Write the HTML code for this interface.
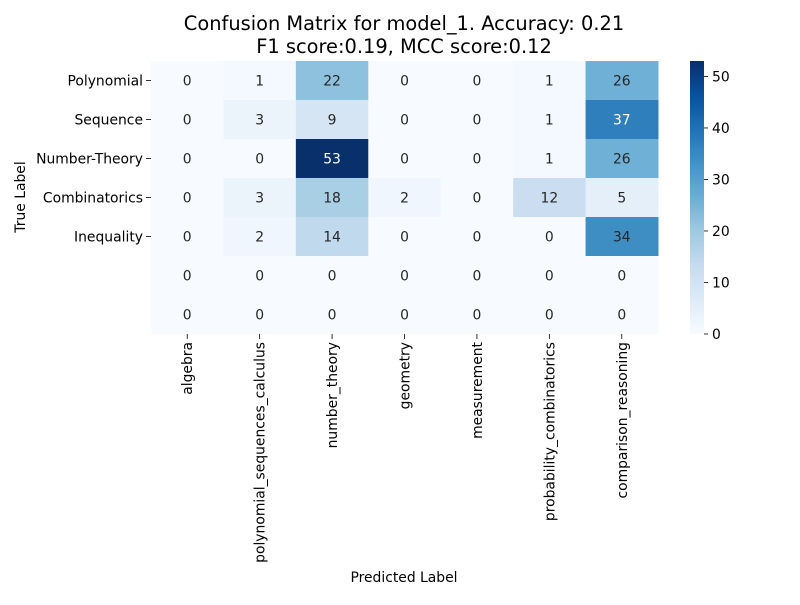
<!DOCTYPE html>
<html><head><meta charset="utf-8">
<style>body{margin:0;background:#fff}svg text{font-family:"DejaVu Sans","Liberation Sans",sans-serif}</style>
</head><body>
<svg id="chart" width="800" height="600" viewBox="0 0 800 600">
<defs>
<linearGradient id="blues" x1="0" y1="1" x2="0" y2="0">
<stop offset="0" stop-color="#f7fbff"/><stop offset="0.125" stop-color="#deebf7"/><stop offset="0.25" stop-color="#c6dbef"/><stop offset="0.375" stop-color="#9ecae1"/><stop offset="0.5" stop-color="#6baed6"/><stop offset="0.625" stop-color="#4292c6"/><stop offset="0.75" stop-color="#2171b5"/><stop offset="0.875" stop-color="#08519c"/><stop offset="1" stop-color="#08306b"/>
</linearGradient>
</defs>
<text x="404" y="30" font-size="19.4" text-anchor="middle">Confusion Matrix for model_1. Accuracy: 0.21</text>
<text x="404" y="53" font-size="19.4" text-anchor="middle">F1 score:0.19, MCC score:0.12</text>
<text x="404" y="582" font-size="13.9" text-anchor="middle">Predicted Label</text>
<text transform="translate(25,197) rotate(-90)" font-size="13.9" text-anchor="middle">True Label</text>
<g id="cells"></g>
<g id="cbar"></g>
</svg>
<script>
const rowLabels = ["Polynomial","Sequence","Number-Theory","Combinatorics","Inequality","",""];
const colLabels = ["algebra","polynomial_sequences_calculus","number_theory","geometry","measurement","probability_combinatorics","comparison_reasoning"];
const matrix = [
 [0,1,22,0,0,1,26],
 [0,3,9,0,0,1,37],
 [0,0,53,0,0,1,26],
 [0,3,18,2,0,12,5],
 [0,2,14,0,0,0,34],
 [0,0,0,0,0,0,0],
 [0,0,0,0,0,0,0]
];
const cbarTicks = [0,10,20,30,40,50];

const NS="http://www.w3.org/2000/svg";
const X0=151, X1=658, Y0=61, Y1=334;
const vmax=Math.max(...matrix.flat()), vmin=0;
const cw=(X1-X0)/colLabels.length, ch=(Y1-Y0)/rowLabels.length;
const colX=i=>X0+i*cw, rowY=j=>Y0+j*ch;
const stops=["#f7fbff","#deebf7","#c6dbef","#9ecae1","#6baed6","#4292c6","#2171b5","#08519c","#08306b"].map(h=>[1,3,5].map(k=>parseInt(h.substr(k,2),16)));
function color(v){let t=(v-vmin)/(vmax-vmin)*8;let i=Math.min(7,Math.floor(t));let f=t-i;
 return stops[i].map((c,k)=>Math.round(c+(stops[i+1][k]-c)*f));}
function mk(tag,attrs,parent){const e=document.createElementNS(NS,tag);for(const k in attrs)e.setAttribute(k,attrs[k]);parent.appendChild(e);return e;}
const g=document.getElementById('cells');
matrix.forEach((row,j)=>row.forEach((v,i)=>{
 const c=color(v);
 const r=mk('rect',{x:colX(i),y:rowY(j),width:cw+0.5,height:ch+0.5,fill:`rgb(${c})`},g);
 
 
 const lum=(0.2126*c[0]+0.7152*c[1]+0.0722*c[2])/255;
 const t=mk('text',{x:colX(i)+cw/2,y:rowY(j)+ch/2+5,'font-size':13.9,'text-anchor':'middle',fill:lum<0.45?'#fff':'#262626'},g);
 t.textContent=v;
 
 
}));
rowLabels.forEach((l,j)=>{
 if(!l) return;
 const y=rowY(j)+ch/2;
 mk('line',{x1:X0-5,x2:X0,y1:y,y2:y,stroke:'#000','stroke-width':0.8},g);
 const t=mk('text',{x:X0-8,y:y+5,'font-size':13.9,'text-anchor':'end'},g);
 t.textContent=l;
 
 
});
colLabels.forEach((l,i)=>{
 const x=colX(i)+cw/2;
 mk('line',{x1:x,x2:x,y1:Y1,y2:Y1+5,stroke:'#000','stroke-width':0.8},g);
 const t=mk('text',{transform:`translate(${x+5},${Y1+8}) rotate(-90)`,'font-size':13.9,'text-anchor':'end'},g);
 t.textContent=l;
 
 
});
const cb=document.getElementById('cbar');
const CX=690,CW=14;
const cbr=mk('rect',{x:CX,y:Y0,width:CW,height:Y1-Y0,fill:'url(#blues)'},cb);


const cy=v=>Y1-(v-vmin)/(vmax-vmin)*(Y1-Y0);
cbarTicks.forEach(v=>{
 const y=cy(v);
 mk('line',{x1:CX+CW,x2:CX+CW+4,y1:y,y2:y,stroke:'#000','stroke-width':0.8},cb);
 const t=mk('text',{x:CX+CW+8,y:y+5,'font-size':13.9},cb);
 t.textContent=v;
 
 
});
</script>
</body></html>
